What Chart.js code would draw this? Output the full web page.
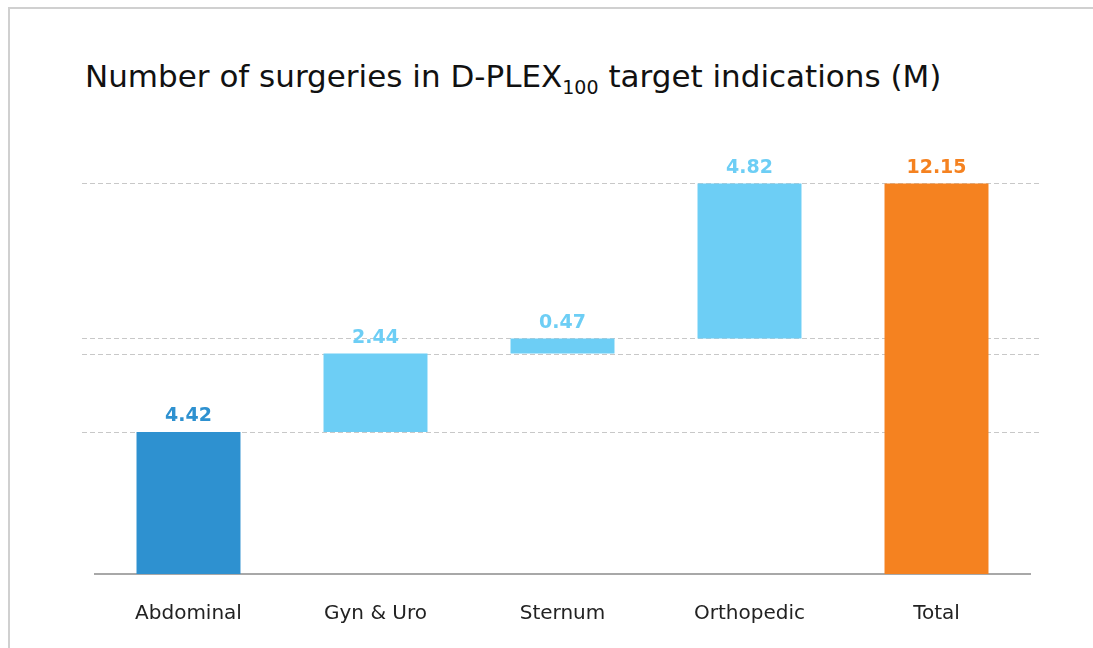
<!DOCTYPE html>
<html>
<head>
<meta charset="utf-8">
<script src="https://cdn.jsdelivr.net/npm/chart.js@4.4.0/dist/chart.umd.min.js"></script>
<style>
	html, body { margin: 0; padding: 0; background: #fff; overflow: hidden; }
	#frame {
		position: absolute; left: 8px; top: 7px; width: 1100px; height: 700px;
		border-left: 2px solid #d0d0d0; border-top: 2px solid #d0d0d0;
	}
	#title {
		position: absolute; left: 85px; top: 58px; white-space: nowrap;
		font-family: 'DejaVu Sans', sans-serif; font-size: 31px; color: #111;
	}
	#title sub { font-size: 19px; vertical-align: -7px; line-height: 0; }
	#wrap { position: absolute; left: 0; top: 0; width: 1093px; height: 680px; }
</style>
</head>
<body>
<div id="frame"></div>
<div id="title">Number of surgeries in D-PLEX<sub>100</sub> target indications (M)</div>
<div id="wrap"><canvas id="chart"></canvas></div>
<script>
var categories = ['Abdominal', 'Gyn & Uro', 'Sternum', 'Orthopedic', 'Total'];
var steps = [4.42, 2.44, 0.47, 4.82];
var total = 12.15;
var barColors = ['#2E91D0', '#6DCEF5', '#6DCEF5', '#6DCEF5', '#F58220'];

// build floating ranges for the waterfall
var ranges = [];
var levels = [];
var run = 0;
for (var i = 0; i < steps.length; i++) {
	ranges.push([run, run + steps[i]]);
	run += steps[i];
	levels.push(run);
}
ranges.push([0, total]);
var labelsText = steps.map(function(v){ return v.toFixed(2); }).concat([total.toFixed(2)]);

var connectorPlugin = {
	id: 'connectors',
	beforeDatasetsDraw: function(chart) {
		var ctx = chart.ctx;
		var y = chart.scales.y;
		var area = chart.chartArea;
		ctx.save();
		ctx.strokeStyle = '#c8c8c8';
		ctx.lineWidth = 1;
		ctx.setLineDash([5, 3]);
		levels.forEach(function(v){
			var py = Math.round(y.getPixelForValue(v)) + 0.5;
			ctx.beginPath();
			ctx.moveTo(area.left - 13, py);
			ctx.lineTo(area.right + 12, py);
			ctx.stroke();
		});
		ctx.restore();
	}
};

var valueLabelPlugin = {
	id: 'valueLabels',
	afterDatasetsDraw: function(chart) {
		var ctx = chart.ctx;
		var meta = chart.getDatasetMeta(0);
		ctx.save();
		ctx.font = 'bold 19px "DejaVu Sans", sans-serif';
		ctx.textAlign = 'center';
		ctx.textBaseline = 'bottom';
		meta.data.forEach(function(bar, i){
			ctx.fillStyle = barColors[i];
			ctx.fillText(labelsText[i], bar.x, bar.y - 6);
		});
		ctx.restore();
	}
};

var ctx = document.getElementById('chart').getContext('2d');
var chart = new Chart(ctx, {
	type: 'bar',
	data: {
		labels: categories,
		datasets: [{
			data: ranges,
			backgroundColor: barColors,
			borderWidth: 0,
			borderSkipped: false,
			barPercentage: 0.556,
			categoryPercentage: 1
		}]
	},
	options: {
		responsive: true,
		maintainAspectRatio: false,
		animation: false,
		layout: {
			padding: { left: 95, right: 63, top: 124, bottom: 26 }
		},
		plugins: {
			legend: { display: false },
			tooltip: { enabled: false }
		},
		scales: {
			x: {
				grid: { display: false, drawTicks: false },
				border: { display: true, color: '#a8a8a8', width: 2 },
				ticks: {
					padding: 28,
					color: '#222',
					font: { family: 'DejaVu Sans', size: 20 }
				}
			},
			y: {
				display: false,
				min: 0,
				max: 14
			}
		}
	},
	plugins: [connectorPlugin, valueLabelPlugin]
});
</script>
</body>
</html>
